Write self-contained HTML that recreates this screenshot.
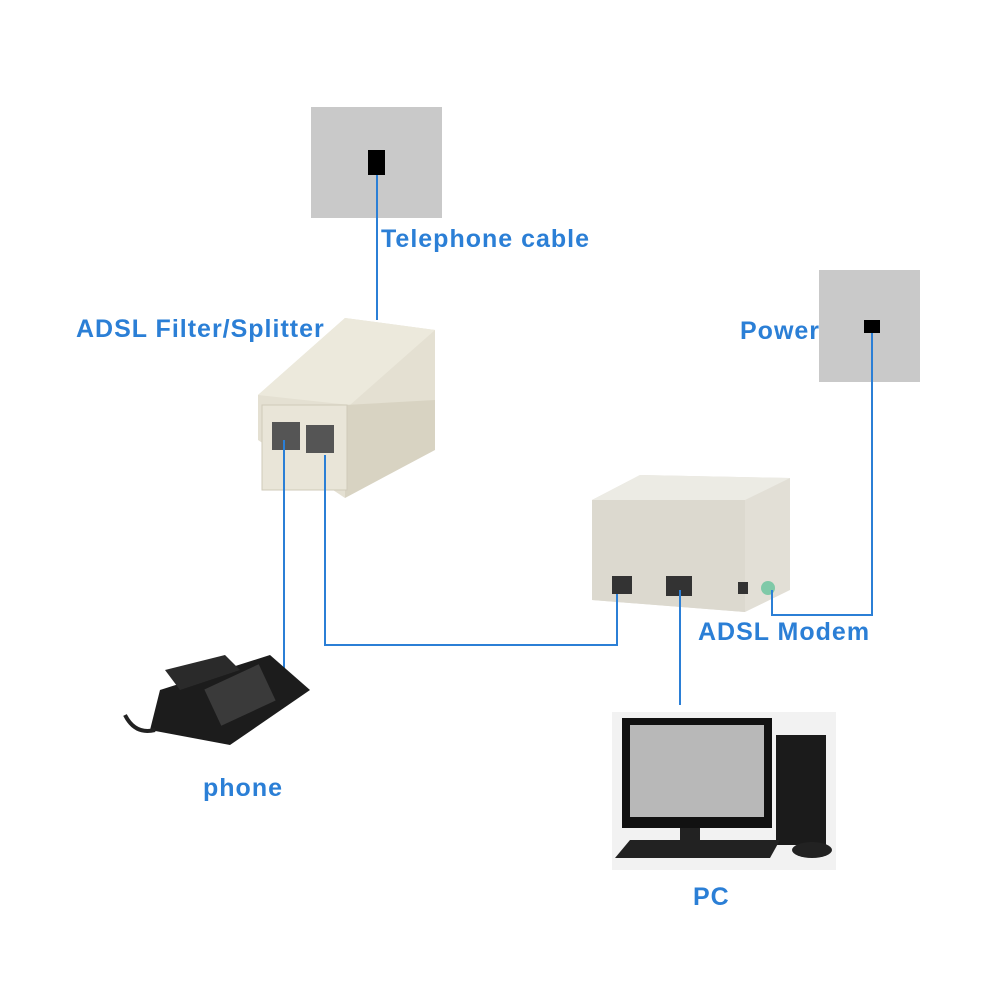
<!DOCTYPE html>
<html><head><meta charset="utf-8"><style>
html,body{margin:0;padding:0;background:#fff;}
#c{position:relative;width:1000px;height:1000px;overflow:hidden;font-family:"Liberation Sans",sans-serif;}
.t{position:absolute;color:#2b7fd6;font-weight:bold;font-size:25px;letter-spacing:1px;white-space:nowrap;}
</style></head><body><div id="c">
<svg width="1000" height="1000" style="position:absolute;left:0;top:0">
<rect x="311" y="107" width="131" height="111" fill="#c9c9c9"/>
<rect x="368" y="150" width="17" height="25" fill="#000"/>
<rect x="819" y="270" width="101" height="112" fill="#c9c9c9"/>
<rect x="864" y="320" width="16" height="13" fill="#000"/>
<polygon points="258,395 345,318 435,330 435,400 345,498 258,440" fill="#e4e0d2"/>
<polygon points="258,395 345,318 435,330 350,405" fill="#ece9dc"/>
<polygon points="345,405 435,400 435,450 345,498" fill="#d8d3c2"/>
<rect x="262" y="405" width="85" height="85" fill="#e9e5d8" stroke="#cfcab9"/>
<rect x="272" y="422" width="28" height="28" fill="#555"/>
<rect x="306" y="425" width="28" height="28" fill="#555"/>
<polygon points="592,500 640,475 790,478 790,590 745,612 592,600" fill="#e2dfd6"/>
<polygon points="592,500 640,475 790,478 745,500" fill="#ecebe4"/>
<polygon points="592,500 745,500 745,612 592,600" fill="#dcd9cf"/>
<rect x="612" y="576" width="20" height="18" fill="#333"/>
<rect x="666" y="576" width="26" height="20" fill="#333"/>
<rect x="738" y="582" width="10" height="12" fill="#333"/>
<circle cx="768" cy="588" r="7" fill="#7fc9a8"/>
<g stroke="#2b7fd6" stroke-width="2" fill="none">
<line x1="377" y1="175" x2="377" y2="320"/>
<polyline points="872,333 872,615 772,615 772,590"/>
<line x1="284" y1="440" x2="284" y2="676"/>
<polyline points="325,455 325,645 617,645 617,594"/>
<line x1="680" y1="590" x2="680" y2="705"/>
</g>
<polygon points="160,690 270,655 310,690 230,745 150,730" fill="#1c1c1c"/>
<polygon points="165,670 225,655 240,670 180,690" fill="#2a2a2a"/>
<rect x="210" y="675" width="60" height="40" fill="#3a3a3a" transform="rotate(-25 240 695)"/>
<path d="M125,715 q10,20 30,15" stroke="#222" stroke-width="4" fill="none"/>
<rect x="612" y="712" width="224" height="158" fill="#f2f2f2"/>
<rect x="622" y="718" width="150" height="110" fill="#111"/>
<rect x="630" y="725" width="134" height="92" fill="#b8b8b8"/>
<rect x="680" y="828" width="20" height="14" fill="#222"/>
<rect x="776" y="735" width="50" height="110" fill="#1b1b1b"/>
<polygon points="615,858 770,858 780,840 630,840" fill="#222"/>
<ellipse cx="812" cy="850" rx="20" ry="8" fill="#222"/>
</svg>
<div class="t" style="left:381px;top:225px">Telephone cable</div>
<div class="t" style="left:76px;top:315px">ADSL Filter/Splitter</div>
<div class="t" style="left:740px;top:317px">Power</div>
<div class="t" style="left:698px;top:618px">ADSL Modem</div>
<div class="t" style="left:203px;top:774px">phone</div>
<div class="t" style="left:693px;top:883px">PC</div>
</div></body></html>
